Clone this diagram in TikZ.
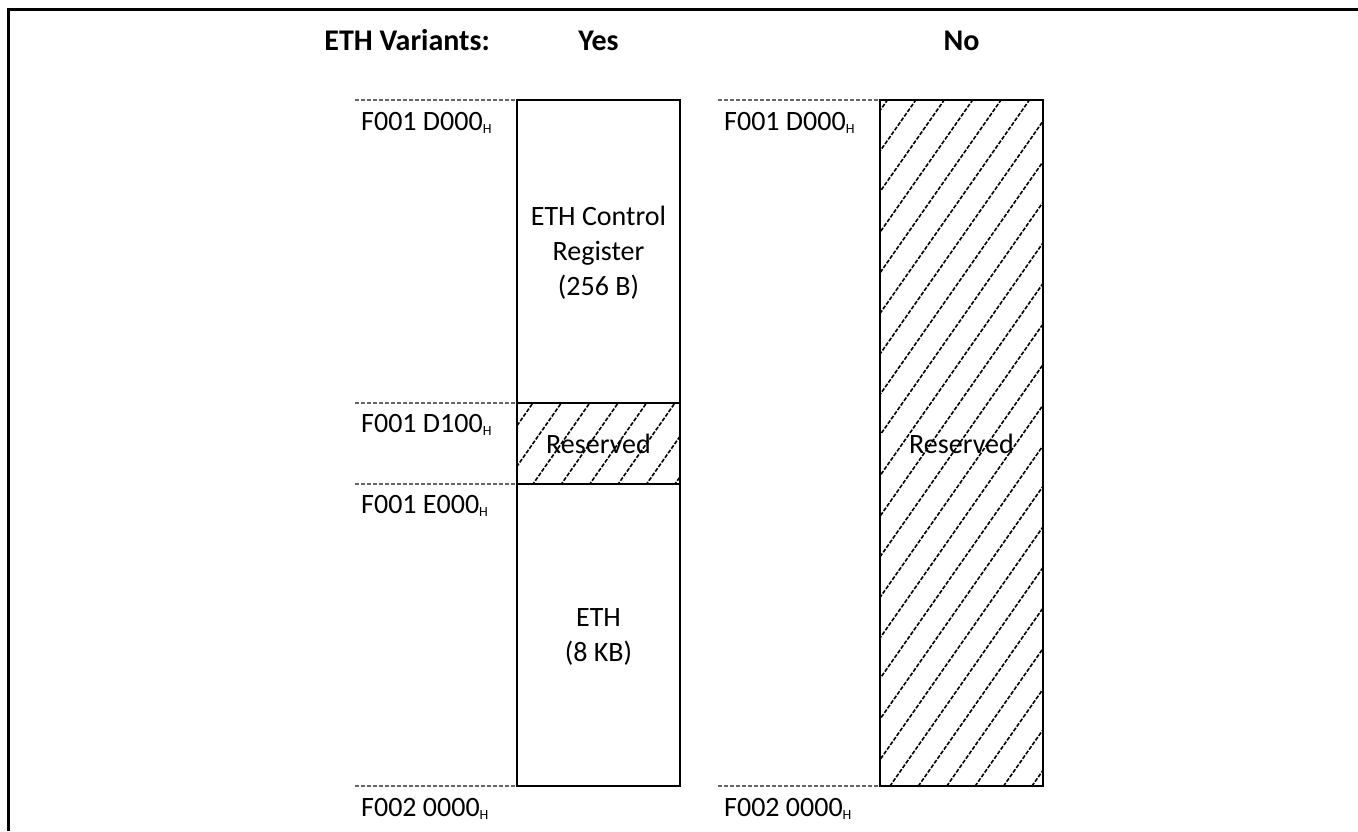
\documentclass[tikz,border=0pt]{standalone}
\usepackage{fontspec}
\setmainfont{Carlito}
\begin{document}
\begin{tikzpicture}[x=1pt,y=-1pt,
  frame/.style={line width=3pt},
  membox/.style={line width=2.8pt},
  guide/.style={black!60,line width=1.2pt,dash pattern=on 4pt off 2pt},
  hatchline/.style={line width=1.6pt,dash pattern=on 4pt off 1.6pt},
  addr/.style={anchor=base west,inner sep=0pt,font=\fontsize{28}{35}\selectfont},
  title/.style={anchor=base,inner sep=0pt,font=\fontsize{30}{36}\selectfont\bfseries},
  boxtext/.style={align=center,inner sep=0pt,font=\fontsize{28}{35}\selectfont}]
\useasboundingbox (0,0) rectangle (1358,831);
\newcommand{\hsub}{\raisebox{-3pt}{\fontsize{14}{14}\selectfont H}}

% outer frame (top and left)
\coordinate (fTR) at (1358,9);
\coordinate (fTL) at (8,9);
\coordinate (fBL) at (8,831);
\draw[frame] (fTR) -- (fTL) -- (fBL);

% titles
\node[title,anchor=base east] (tvar) at (490,50) {ETH Variants:};
\node[title] (tyes) at (598.5,50) {Yes};
\node[title] (tno) at (961.5,50) {No};

% ---------- Yes column ----------
\coordinate (yTL) at (517,100);
\coordinate (yTR) at (680,100);
\coordinate (yAL) at (517,403);
\coordinate (yAR) at (680,403);
\coordinate (yBL) at (517,484);
\coordinate (yBR) at (680,484);
\coordinate (yEL) at (517,786);
\coordinate (yER) at (680,786);

% hatch of the small reserved area
\begin{scope}
\clip (yAL) rectangle (yBR);
\foreach \k in {-6,...,8}{
  \draw[hatchline] ({871.8+28.4*\k-420},600) -- ({871.8+28.4*\k-210},300);
}
\end{scope}

\draw[membox] (yTL) rectangle (yER);
\draw[membox] (yAL) -- (yAR);
\draw[membox] (yBL) -- (yBR);

% guide lines
\coordinate (gy1) at (355,100);
\coordinate (gy2) at (355,403);
\coordinate (gy3) at (355,484);
\coordinate (gy4) at (355,786);
\draw[guide] (gy1) -- (yTL);
\draw[guide] (gy2) -- (yAL);
\draw[guide] (gy3) -- (yBL);
\draw[guide] (gy4) -- (yEL);

% address labels
\node[addr] (ay1) at (361,130) {F001 D000\hsub};
\node[addr] (ay2) at (361,432) {F001 D100\hsub};
\node[addr] (ay3) at (361,513) {F001 E000\hsub};
\node[addr] (ay4) at (361,816) {F002 0000\hsub};

% box texts
\node[boxtext] (ctrl) at (598.5,253) {ETH Control\\Register\\(256 B)};
\node[boxtext] (resy) at (598.5,443.5) {Reserved};
\node[boxtext] (eth) at (598.5,637) {ETH\\(8 KB)};

% ---------- No column ----------
\coordinate (nTL) at (880,100);
\coordinate (nTR) at (1043,100);
\coordinate (nBL) at (880,786);
\coordinate (nBR) at (1043,786);

\begin{scope}
\clip (nTL) rectangle (nBR);
\foreach \k in {-24,...,8}{
  \draw[hatchline] ({1440.2+28.4*\k-560},800) -- ({1440.2+28.4*\k-56},80);
}
\end{scope}
\draw[membox] (nTL) rectangle (nBR);

\coordinate (gn1) at (718,100);
\coordinate (gn4) at (718,786);
\draw[guide] (gn1) -- (nTL);
\draw[guide] (gn4) -- (nBL);

\node[addr] (an1) at (724,130) {F001 D000\hsub};
\node[addr] (an4) at (724,816) {F002 0000\hsub};

\node[boxtext] (resn) at (961.5,443.5) {Reserved};
\end{tikzpicture}
\end{document}
